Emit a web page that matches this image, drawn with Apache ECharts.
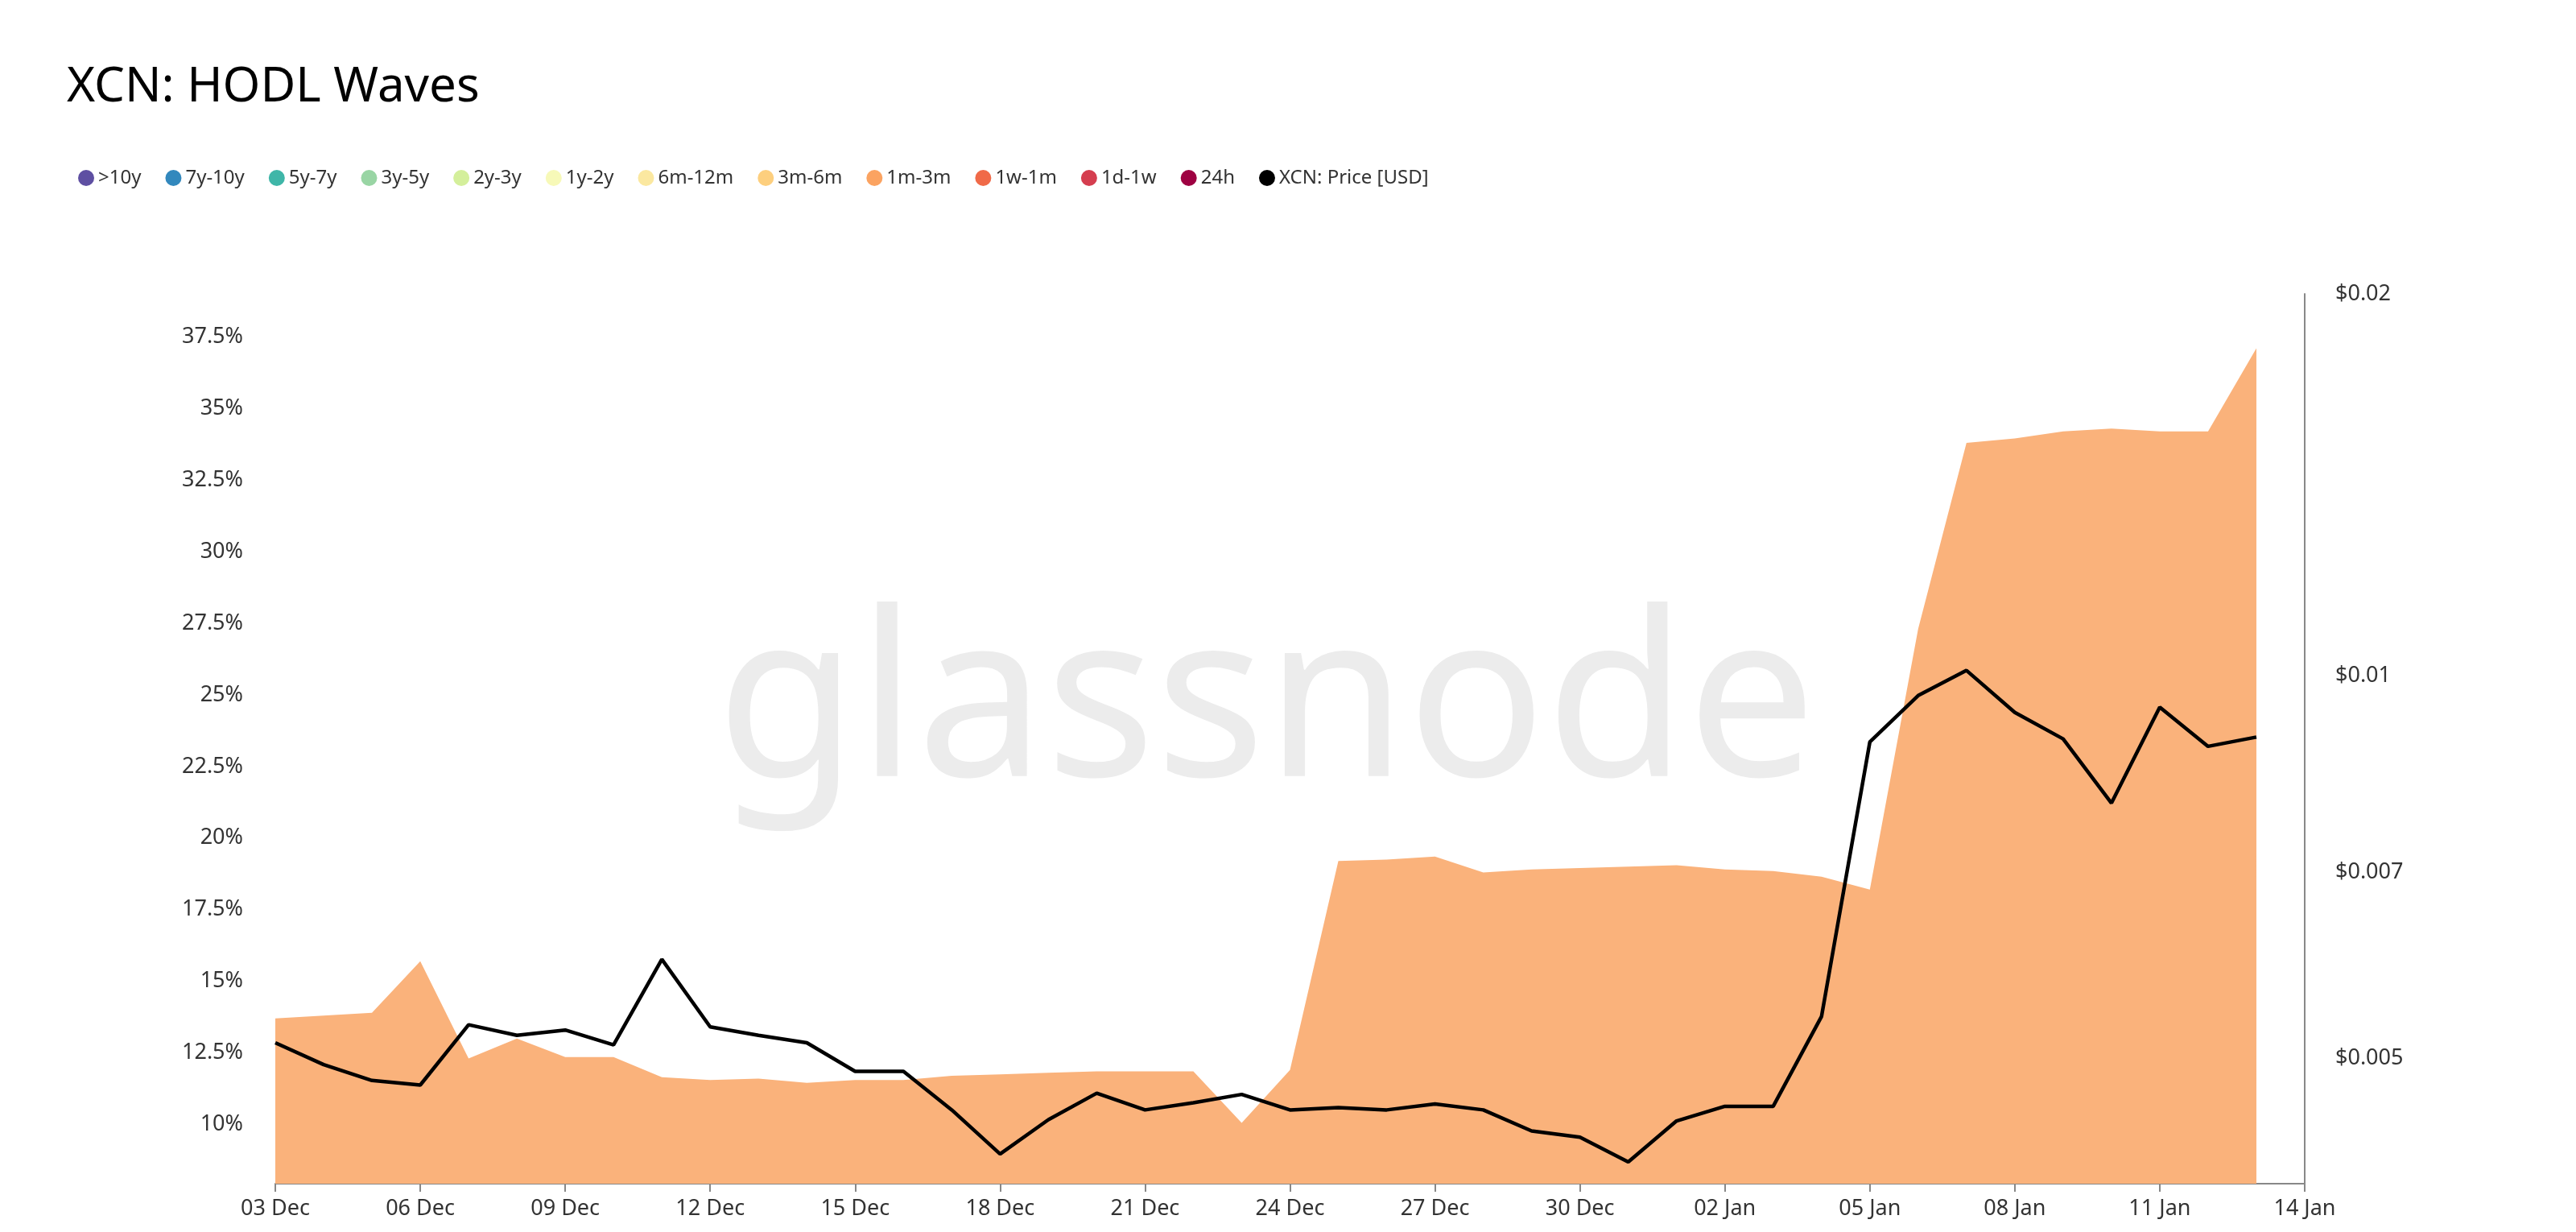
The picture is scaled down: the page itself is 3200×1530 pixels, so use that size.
<!DOCTYPE html>
<html><head><meta charset="utf-8">
<script src="https://cdn.jsdelivr.net/npm/echarts@6/dist/echarts.min.js"></script>
<style>html,body{margin:0;padding:0;background:#fff}#c{width:3200px;height:1530px}</style>
</head><body><div id="c"></div>
<script>
const categories = ['03 Dec','04 Dec','05 Dec','06 Dec','07 Dec','08 Dec','09 Dec','10 Dec','11 Dec','12 Dec','13 Dec','14 Dec','15 Dec','16 Dec','17 Dec','18 Dec','19 Dec','20 Dec','21 Dec','22 Dec','23 Dec','24 Dec','25 Dec','26 Dec','27 Dec','28 Dec','29 Dec','30 Dec','31 Dec','01 Jan','02 Jan','03 Jan','04 Jan','05 Jan','06 Jan','07 Jan','08 Jan','09 Jan','10 Jan','11 Jan','12 Jan','13 Jan','14 Jan'];
const wave1m3m = [13.7,13.8,13.9,15.7,12.3,13.0,12.35,12.35,11.65,11.55,11.6,11.45,11.55,11.55,11.7,11.75,11.8,11.85,11.85,11.85,10.05,11.9,19.2,19.25,19.35,18.8,18.9,18.95,19.0,19.05,18.9,18.85,18.65,18.2,27.3,33.8,33.95,34.2,34.3,34.2,34.2,37.1];
const price = [0.00514,0.00494,0.0048,0.00476,0.00531,0.00521,0.00526,0.00512,0.00598,0.00529,0.00521,0.00514,0.00488,0.00488,0.00455,0.0042,0.00447,0.00469,0.00455,0.00461,0.00468,0.00455,0.00457,0.00455,0.0046,0.00455,0.00438,0.00433,0.00414,0.00446,0.00458,0.00458,0.00539,0.00887,0.00965,0.0101,0.00936,0.00892,0.00794,0.00945,0.0088,0.00895];
const pctTicks = [10,12.5,15,17.5,20,22.5,25,27.5,30,32.5,35,37.5];
const priceTicks = [0.005,0.007,0.01,0.02];
const legendNames = ['>10y','7y-10y','5y-7y','3y-5y','2y-3y','1y-2y','6m-12m','3m-6m','1m-3m','1w-1m','1d-1w','24h','XCN: Price [USD]'];
const legendColors = ['#5e4fa2','#3288bd','#3fb6a8','#99d5a4','#d4ef9b','#f7f9b8','#fbe8a0','#fdcf7e','#fba361','#f06a48','#d53e4f','#9e0142','#000000'];

const chart = echarts.init(document.getElementById('c'));
const series = [];
legendNames.forEach((n,i)=>{
  if (n==='1m-3m') {
    series.push({name:n,type:'line',data:wave1m3m,symbol:'none',lineStyle:{width:0},areaStyle:{color:'#fab27b',opacity:1},itemStyle:{color:legendColors[i]},z:1});
  } else if (n==='XCN: Price [USD]') {
    series.push({name:n,type:'line',yAxisIndex:1,data:price,symbol:'none',lineStyle:{color:'#000',width:4.5},itemStyle:{color:'#000'},z:3});
  } else {
    series.push({name:n,type:'line',data:[],itemStyle:{color:legendColors[i]}});
  }
});
chart.setOption({
  animation:false,
  title:{text:'XCN: HODL Waves',left:78,top:74,textStyle:{fontFamily:'Noto Sans',fontWeight:'normal',fontSize:60,color:'#000'}},
  legend:{data:legendNames.map(n=>({name:n,icon:'circle'})),left:92,top:204,itemWidth:20,itemHeight:20,itemGap:30,
    textStyle:{fontFamily:'Noto Sans',fontSize:24,color:'#333'}},
  graphic:[{type:'text',left:890,top:740,z:0,style:{text:'glassnode',fontSize:285,fontFamily:'Noto Sans',fill:'#ececec'}}],
  grid:{left:342,right:337,top:365,bottom:60},
  xAxis:{type:'category',data:categories,boundaryGap:false,
    axisLine:{lineStyle:{color:'#888',width:2}},
    axisTick:{interval:2,length:10,lineStyle:{color:'#888',width:2}},
    axisLabel:{interval:2,fontSize:27,color:'#333',margin:18,fontFamily:'Noto Sans'},splitLine:{show:false}},
  yAxis:[{type:'value',min:7.93,max:39,position:'left',
    axisLine:{show:false},axisTick:{show:false},splitLine:{show:false},
    axisLabel:{customValues:pctTicks,formatter:v=>v+'%',fontSize:27,color:'#333',margin:40,fontFamily:'Noto Sans'}},
   {type:'log',min:0.00398,max:0.02,position:'right',
    axisLine:{show:true,lineStyle:{color:'#888',width:2}},axisTick:{show:false},splitLine:{show:false},
    axisLabel:{customValues:priceTicks,formatter:v=>'$'+v,fontSize:27,color:'#333',margin:38,fontFamily:'Noto Sans'}}],
  series:series
});
</script></body></html>
